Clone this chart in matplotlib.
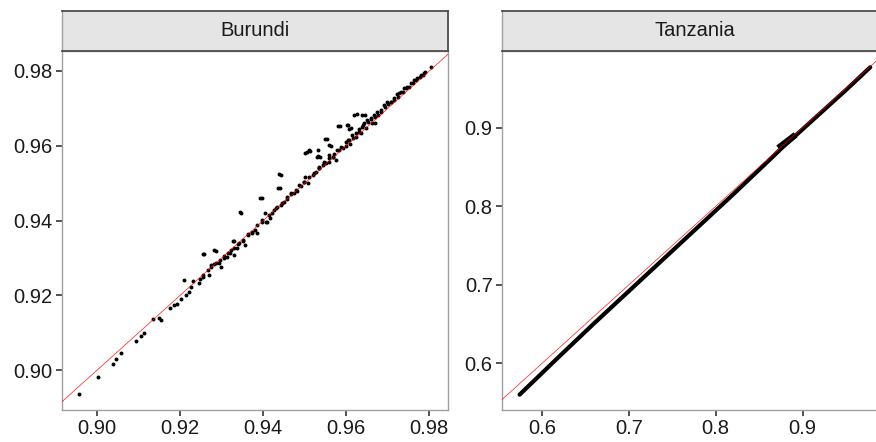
import matplotlib
matplotlib.use("Agg")
import matplotlib.pyplot as plt
from matplotlib.ticker import FormatStrFormatter

plt.rcParams['font.family'] = ['Liberation Sans', 'DejaVu Sans']

# ---------------- data ----------------
panel_titles = ["Burundi", "Tanzania"]

burundi_x = [
    0.8956, 0.9003, 0.9037, 0.9045, 0.9057, 0.9094, 0.9105, 0.9113, 0.9135, 0.9148,
    0.9153, 0.9176, 0.9184, 0.9192, 0.9202, 0.9210, 0.9214, 0.9220, 0.9226, 0.9231,
    0.9244, 0.9248, 0.9256, 0.9258, 0.9269, 0.9275, 0.9281, 0.9285, 0.9293, 0.9297,
    0.9305, 0.9313, 0.9321, 0.9329, 0.9329, 0.9337, 0.9342, 0.9347, 0.9352, 0.9357,
    0.9363, 0.9373, 0.9381, 0.9385, 0.9396, 0.9398, 0.9403, 0.9410, 0.9416, 0.9422,
    0.9430, 0.9440, 0.9442, 0.9442, 0.9450, 0.9458, 0.9466, 0.9474, 0.9482, 0.9490,
    0.9497, 0.9500, 0.9505, 0.9508, 0.9513, 0.9519, 0.9527, 0.9532, 0.9535, 0.9537,
    0.9543, 0.9551, 0.9553, 0.9559, 0.9563, 0.9567, 0.9571, 0.9575, 0.9583, 0.9584,
    0.9591, 0.9599, 0.9603, 0.9605, 0.9610, 0.9611, 0.9615, 0.9623, 0.9626, 0.9631,
    0.9635, 0.9640, 0.9644, 0.9648, 0.9652, 0.9660, 0.9668, 0.9669, 0.9676, 0.9684,
    0.9692, 0.9700, 0.9708, 0.9716, 0.9724, 0.9728, 0.9736, 0.9744, 0.9752, 0.9760,
    0.9768, 0.9777, 0.9785, 0.9789, 0.9805,
    # dense band, upper part
    0.9534, 0.9546, 0.9559, 0.9567, 0.9578, 0.9587, 0.9599, 0.9607, 0.9614, 0.9623,
    0.9630, 0.9638, 0.9642, 0.9650, 0.9659, 0.9667, 0.9674, 0.9683, 0.9690, 0.9698,
    0.9707, 0.9714, 0.9722, 0.9731, 0.9738, 0.9746, 0.9755, 0.9762, 0.9770, 0.9779,
    0.9786,
    0.9579, 0.9602, 0.9607, 0.9549, 0.9559, 0.9533, 0.9618, 0.9638, 0.9662, 0.9510,
    # dense band, middle part
    0.9254, 0.9266, 0.9275, 0.9287, 0.9295, 0.9306, 0.9314, 0.9323, 0.9330, 0.9338,
    0.9350, 0.9362, 0.9374, 0.9386, 0.9398, 0.9407, 0.9414, 0.9426, 0.9434, 0.9446,
    0.9458, 0.9467, 0.9479, 0.9486, 0.9498, 0.9510, 0.9522, 0.9534, 0.9546, 0.9558,
    0.9254, 0.9281, 0.9326, 0.9344, 0.9392, 0.9437, 0.9436, 0.9501, 0.9529,
]
burundi_y = [
    0.8935, 0.8981, 0.9016, 0.9029, 0.9046, 0.9077, 0.9092, 0.9100, 0.9136, 0.9138,
    0.9134, 0.9166, 0.9174, 0.9177, 0.9189, 0.9241, 0.9200, 0.9210, 0.9221, 0.9238,
    0.9232, 0.9243, 0.9250, 0.9310, 0.9253, 0.9276, 0.9284, 0.9319, 0.9285, 0.9276,
    0.9299, 0.9303, 0.9312, 0.9346, 0.9308, 0.9326, 0.9339, 0.9421, 0.9346, 0.9334,
    0.9364, 0.9366, 0.9375, 0.9366, 0.9459, 0.9397, 0.9419, 0.9397, 0.9406, 0.9419,
    0.9433, 0.9486, 0.9523, 0.9441, 0.9450, 0.9457, 0.9470, 0.9473, 0.9480, 0.9491,
    0.9504, 0.9517, 0.9582, 0.9499, 0.9587, 0.9522, 0.9531, 0.9589, 0.9540, 0.9571,
    0.9548, 0.9553, 0.9617, 0.9557, 0.9599, 0.9571, 0.9578, 0.9562, 0.9589, 0.9653,
    0.9593, 0.9598, 0.9615, 0.9655, 0.9606, 0.9647, 0.9620, 0.9624, 0.9685, 0.9638,
    0.9633, 0.9655, 0.9682, 0.9647, 0.9664, 0.9671, 0.9676, 0.9662, 0.9682, 0.9691,
    0.9705, 0.9713, 0.9718, 0.9722, 0.9731, 0.9740, 0.9745, 0.9754, 0.9758, 0.9767,
    0.9776, 0.9783, 0.9789, 0.9796, 0.9812,
    # dense band, upper part
    0.9544, 0.9557, 0.9575, 0.9571, 0.9589, 0.9597, 0.9609, 0.9615, 0.9629, 0.9633,
    0.9645, 0.9651, 0.9660, 0.9669, 0.9673, 0.9682, 0.9691, 0.9696, 0.9709, 0.9716,
    0.9718, 0.9729, 0.9738, 0.9743, 0.9754, 0.9758, 0.9767, 0.9776, 0.9780, 0.9789,
    0.9794,
    0.9654, 0.9655, 0.9645, 0.9618, 0.9602, 0.9573, 0.9682, 0.9682, 0.9660, 0.9589,
    # dense band, middle part
    0.9254, 0.9267, 0.9281, 0.9285, 0.9294, 0.9305, 0.9312, 0.9321, 0.9326, 0.9337,
    0.9348, 0.9361, 0.9370, 0.9388, 0.9401, 0.9397, 0.9415, 0.9428, 0.9437, 0.9446,
    0.9464, 0.9473, 0.9482, 0.9495, 0.9504, 0.9517, 0.9526, 0.9540, 0.9553, 0.9566,
    0.9310, 0.9321, 0.9346, 0.9422, 0.9461, 0.9524, 0.9486, 0.9580, 0.9571,
]

tanzania_x = [0.574, 0.620, 0.660, 0.700, 0.740, 0.780, 0.820, 0.860, 0.875, 0.890,
              0.920, 0.950, 0.978]
tanzania_y = [0.560, 0.609, 0.651, 0.692, 0.733, 0.774, 0.815, 0.857, 0.873, 0.888,
              0.918, 0.948, 0.977]
tanzania_bump_x = [0.872, 0.892]
tanzania_bump_y = [0.874, 0.891]

burundi_ticks = [0.90, 0.92, 0.94, 0.96, 0.98]
tanzania_ticks = [0.6, 0.7, 0.8, 0.9]

# ---------------- figure ----------------
W, H = 876, 442
fig = plt.figure(figsize=(W / 100, H / 100), dpi=100)

def fx(px):
    return px / W

def fy(py):
    return 1 - py / H

panel_top, panel_bot = 50.7, 410.0
strip_top = 10.7

panels = [
    dict(left=61.7, right=448.0, title=panel_titles[0],
         xlim=(0.89145, 0.98449), ylim=(0.8893, 0.98543),
         ticks=burundi_ticks, fmt="%.2f"),
    dict(left=501.7, right=887.6, title=panel_titles[1],
         xlim=(0.5534, 0.9980), ylim=(0.5405, 0.9981),
         ticks=tanzania_ticks, fmt="%.1f"),
]

text_color = "#1A1A1A"
axes = []
for p in panels:
    ax = fig.add_axes([fx(p["left"]), fy(panel_bot), fx(p["right"] - p["left"]),
                       (panel_bot - panel_top) / H])
    ax.set_xlim(*p["xlim"])
    ax.set_ylim(*p["ylim"])
    ax.set_xticks(p["ticks"])
    ax.set_yticks(p["ticks"])
    ax.xaxis.set_major_formatter(FormatStrFormatter(p["fmt"]))
    ax.yaxis.set_major_formatter(FormatStrFormatter(p["fmt"]))
    ax.tick_params(length=4.5, width=1.2, color="#333333", labelsize=14.5,
                   labelcolor=text_color, pad=2)
    for s in ax.spines.values():
        s.set_color("#A0A0A0")
        s.set_linewidth(1.0)
    ax.set_facecolor("white")
    axes.append(ax)

    sax = fig.add_axes([fx(p["left"]), fy(panel_top), fx(p["right"] - p["left"]),
                        (panel_top - strip_top) / H])
    sax.set_facecolor("#E5E5E5")
    sax.set_xticks([])
    sax.set_yticks([])
    for name, s in sax.spines.items():
        s.set_color("#4D4D4D")
        s.set_linewidth(1.3)
    sax.spines["left"].set_color("#A0A0A0")
    sax.spines["left"].set_linewidth(1.0)
    sax.text(0.5, 0.5, p["title"], transform=sax.transAxes, ha="center",
             va="center", fontsize=14.5, color=text_color)

ax1, ax2 = axes

ax1.scatter(burundi_x, burundi_y, s=8, color="black", linewidths=0, zorder=2)
ax1.axline((0.9, 0.9), slope=1, color="#FF0000", lw=0.5, alpha=0.9, zorder=3)

ax2.plot(tanzania_x, tanzania_y, color="black", lw=3.0, solid_capstyle="round",
         zorder=2)
ax2.plot(tanzania_bump_x, tanzania_bump_y, color="black", lw=4.6,
         solid_capstyle="butt", zorder=2)
ax2.axline((0.7, 0.7), slope=1, color="#FF0000", lw=0.5, alpha=0.9, zorder=3)

fig.savefig("out.png", dpi=100)
